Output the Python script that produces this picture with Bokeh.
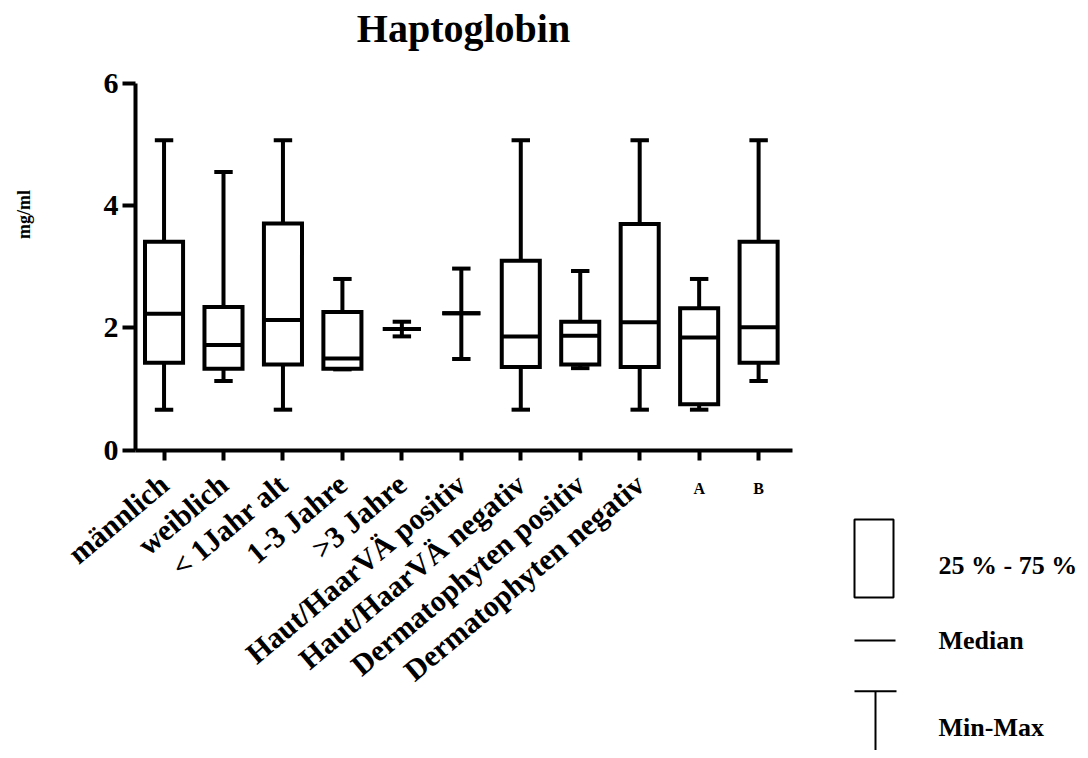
import math
from bokeh.plotting import figure
from bokeh.models import ColumnDataSource, Range1d, FixedTicker, LinearAxis
from bokeh.embed import file_html
from bokeh.resources import INLINE
from bokeh.core.properties import value

# ---- data ----
title_text = "Haptoglobin"
y_label = "mg/ml"
categories = ["männlich", "weiblich", "< 1Jahr alt", "1-3 Jahre", ">3 Jahre",
              "Haut/HaarVÄ positiv", "Haut/HaarVÄ negativ",
              "Dermatophyten positiv", "Dermatophyten negativ", "A", "B"]
n_rotated = 9          # first nine labels are slanted, A and B are flat
maxs    = [5.07, 4.55, 5.07, 2.80, 2.10, 2.97, 5.07, 2.93, 5.07, 2.80, 5.07]
q3s     = [3.41, 2.34, 3.71, 2.26, 1.98, 2.24, 3.10, 2.10, 3.70, 2.32, 3.41]
medians = [2.23, 1.72, 2.13, 1.50, 1.98, 2.24, 1.86, 1.87, 2.09, 1.84, 2.01]
q1s     = [1.43, 1.33, 1.40, 1.33, 1.98, 2.24, 1.36, 1.40, 1.36, 0.75, 1.43]
mins    = [0.66, 1.13, 0.66, 1.32, 1.86, 1.49, 0.66, 1.34, 0.66, 0.66, 1.13]
y_ticks = [0, 2, 4, 6]
legend_items = ["25 % - 75 %", "Median", "Min-Max"]

FONT = "Liberation Serif"
positions = list(range(1, len(categories) + 1))
X_LO, X_HI = 0.52, 11.57     # extent of the x axis
Y_LO, Y_HI = 0, 6            # extent of the y axis

# ---- layout (pixels) ----
W, H = 1080, 750
AX_L, AX_R = 135, 792        # x axis pixel extent
AX_T, AX_B = 83, 449.5       # y axis pixel extent
sx = (AX_R - AX_L) / (X_HI - X_LO)
sy = (AX_B - AX_T) / (Y_HI - Y_LO)
def px2x(px): return X_LO + (px - AX_L) / sx
def py2y(py): return Y_LO + (AX_B - py) / sy

box_w, cap_w, lw = 0.64, 0.31, 4

src = ColumnDataSource(dict(
    x=positions,
    left=[x - box_w / 2 for x in positions],
    right=[x + box_w / 2 for x in positions],
    cl=[x - cap_w / 2 for x in positions],
    cr=[x + cap_w / 2 for x in positions],
    mx=maxs, q3=q3s, med=medians, q1=q1s, mn=mins,
))

p = figure(width=W, height=H, x_range=Range1d(px2x(0), px2x(W)), y_range=Range1d(py2y(H), py2y(0)),
           toolbar_location=None, output_backend="svg", min_border=0,
           x_axis_location=None, y_axis_location=None)
p.grid.visible = False
p.outline_line_color = None

# boxes & whiskers
p.segment(x0="x", y0="q3", x1="x", y1="mx", source=src, line_color="black", line_width=lw)
p.segment(x0="x", y0="mn", x1="x", y1="q1", source=src, line_color="black", line_width=lw)
p.segment(x0="cl", y0="mx", x1="cr", y1="mx", source=src, line_color="black", line_width=lw)
p.segment(x0="cl", y0="mn", x1="cr", y1="mn", source=src, line_color="black", line_width=lw)
p.quad(left="left", right="right", bottom="q1", top="q3", source=src,
       fill_color="white", line_color="black", line_width=lw, line_join="miter")
p.segment(x0="left", y0="med", x1="right", y1="med", source=src, line_color="black", line_width=lw)

def style(ax, size):
    ax.minor_tick_line_color = None
    ax.major_tick_in = 0
    ax.major_label_text_font = FONT
    ax.major_label_text_font_style = "bold"
    ax.major_label_text_font_size = size
    ax.major_label_text_color = "black"
    ax.axis_line_width = lw
    ax.axis_line_color = "black"
    ax.major_tick_line_width = lw
    ax.major_tick_line_color = "black"

ya = LinearAxis(ticker=FixedTicker(ticks=y_ticks), fixed_location=X_LO, bounds=(Y_LO, Y_HI))
style(ya, "30px")
ya.major_tick_out = 13
ya.major_label_standoff = 4
p.add_layout(ya, "left")

xa = LinearAxis(ticker=FixedTicker(ticks=positions), fixed_location=Y_LO, bounds=(X_LO, X_HI))
style(xa, "30px")
xa.major_label_overrides = {pos: (lab if i < n_rotated else "")
                            for i, (pos, lab) in enumerate(zip(positions, categories))}
xa.major_tick_out = 10
xa.major_label_standoff = 20
xa.major_label_orientation = math.radians(40)
p.add_layout(xa, "below")

xb = LinearAxis(ticker=FixedTicker(ticks=positions[n_rotated:]), fixed_location=Y_LO, bounds=(X_LO, X_HI))
style(xb, "16px")
xb.major_label_overrides = {pos: lab for pos, lab in zip(positions[n_rotated:], categories[n_rotated:])}
xb.axis_line_color = None
xb.major_tick_line_color = None
xb.major_tick_out = 0
xb.major_label_standoff = 30
xb.major_label_orientation = "horizontal"
p.add_layout(xb, "below")

# title and y label
p.text(x=[px2x(463)], y=[py2y(28)], text=[title_text], text_align="center", text_baseline="alphabetic",
       text_font=value(FONT), text_font_style="bold", text_font_size="40px", text_color="black")
p.text(x=[px2x(23)], y=[py2y(214)], text=[y_label], angle=math.pi / 2, text_align="center",
       text_baseline="middle", text_font=value(FONT), text_font_style="bold", text_font_size="18px",
       text_color="black")

# legend
p.quad(left=[px2x(854)], right=[px2x(893)], top=[py2y(519)], bottom=[py2y(597)],
       fill_color=None, line_color="black", line_width=2)
p.segment(x0=[px2x(854)], y0=[py2y(640)], x1=[px2x(895)], y1=[py2y(640)], line_color="black", line_width=2)
p.segment(x0=[px2x(854), px2x(875)], y0=[py2y(690.7)] * 2, x1=[px2x(896), px2x(875)],
          y1=[py2y(690.7), py2y(760)], line_color="black", line_width=2)
p.text(x=[px2x(938)] * 3, y=[py2y(565), py2y(640), py2y(727)], text=legend_items, text_baseline="middle",
       text_font=value(FONT), text_font_style="bold", text_font_size="26px", text_color="black")

open("out.html", "w").write(file_html(p, INLINE))
